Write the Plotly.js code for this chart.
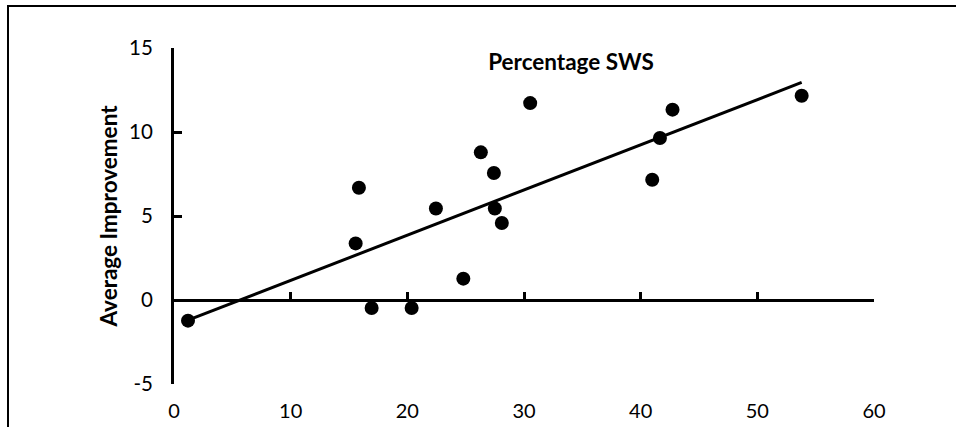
<!DOCTYPE html>
<html>
<head>
<meta charset="utf-8">
<script src="https://cdn.plot.ly/plotly-3.0.1.min.js"></script>
<style>
  html, body { margin: 0; padding: 0; background: #ffffff; }
  #chart { width: 956px; height: 427px; }
</style>
</head>
<body>
<div id="chart"></div>
<script>
// Data
const sws = [1.2, 15.85, 15.57, 16.94, 20.37, 22.45, 24.8, 26.3, 27.42, 27.5, 28.1, 30.53, 40.99, 41.65, 42.73, 53.8];
const improvement = [-1.23, 6.68, 3.37, -0.48, -0.48, 5.45, 1.27, 8.79, 7.56, 5.45, 4.58, 11.72, 7.16, 9.64, 11.33, 12.16];
const trendX = [1.2, 53.8];
const trendY = [-1.2, 12.95];
const xTicks = [0, 10, 20, 30, 40, 50, 60];
const yTicks = [-5, 0, 5, 10, 15];
const chartTitle = 'Percentage SWS';
const yTitle = 'Average Improvement';

const FONT = 'Lato, "Open Sans", sans-serif';

const traces = [
  {
    x: trendX, y: trendY, type: 'scatter', mode: 'lines',
    line: { color: '#000000', width: 3 }, hoverinfo: 'skip', showlegend: false
  },
  {
    x: sws, y: improvement, type: 'scatter', mode: 'markers',
    marker: { color: '#000000', size: 14 }, showlegend: false
  },
  {
    x: [], y: [], xaxis: 'x2', yaxis: 'y', type: 'scatter', mode: 'markers', showlegend: false
  }
];

// plot area geometry (pixels)
const L = 174, R = 82, T = 48, B = 43;
const W = 956, H = 427;
const pw = W - L - R, ph = H - T - B;
const px = v => (v - L) / pw;
const py = v => 1 - (v - T) / ph;

const layout = {
  width: W, height: H,
  margin: { l: L, r: R, t: T, b: B, pad: 0 },
  paper_bgcolor: '#ffffff',
  plot_bgcolor: '#ffffff',
  font: { family: FONT, color: '#000000', size: 20 },
  title: {
    text: '<b>' + chartTitle + '</b>',
    font: { family: FONT, size: 22.5, color: '#000000' },
    xref: 'container', yref: 'container',
    x: 571 / W, y: 1 - 62 / H, xanchor: 'center', yanchor: 'middle'
  },
  xaxis: {
    range: [0, 60], tickvals: xTicks, ticktext: xTicks.map(String),
    showline: false, showgrid: false, zeroline: false, ticks: '',
    ticklabelstandoff: 13,
    tickfont: { family: FONT, size: 20, color: '#000000' }
  },
  xaxis2: {
    range: [0, 60], overlaying: 'x', anchor: 'free', position: 0.25, side: 'bottom',
    tickvals: xTicks, showticklabels: false,
    showline: true, linecolor: '#000000', linewidth: 3,
    ticks: 'inside', ticklen: 7, tickwidth: 3, tickcolor: '#000000',
    showgrid: false, zeroline: false, layer: 'below traces'
  },
  yaxis: {
    range: [-5, 15], tickvals: yTicks, ticktext: yTicks.map(String),
    showline: true, linecolor: '#000000', linewidth: 3,
    ticks: 'inside', ticklen: 8, tickwidth: 3, tickcolor: '#000000',
    showgrid: false, zeroline: false,
    ticklabelstandoff: 14,
    tickfont: { family: FONT, size: 20.5, color: '#000000' },
    title: {
      text: '<b>' + yTitle + '</b>',
      font: { family: FONT, size: 22.5, color: '#000000' },
      standoff: 6
    }
  },
  shapes: [
    {
      type: 'path', xref: 'paper', yref: 'paper',
      path: 'M ' + px(8) + ',' + py(440) + ' L ' + px(8) + ',' + py(6) + ' L ' + px(970) + ',' + py(6),
      line: { color: '#000000', width: 2 }
    }
  ]
};

Plotly.newPlot('chart', traces, layout, { displayModeBar: false, staticPlot: true });
</script>
</body>
</html>
